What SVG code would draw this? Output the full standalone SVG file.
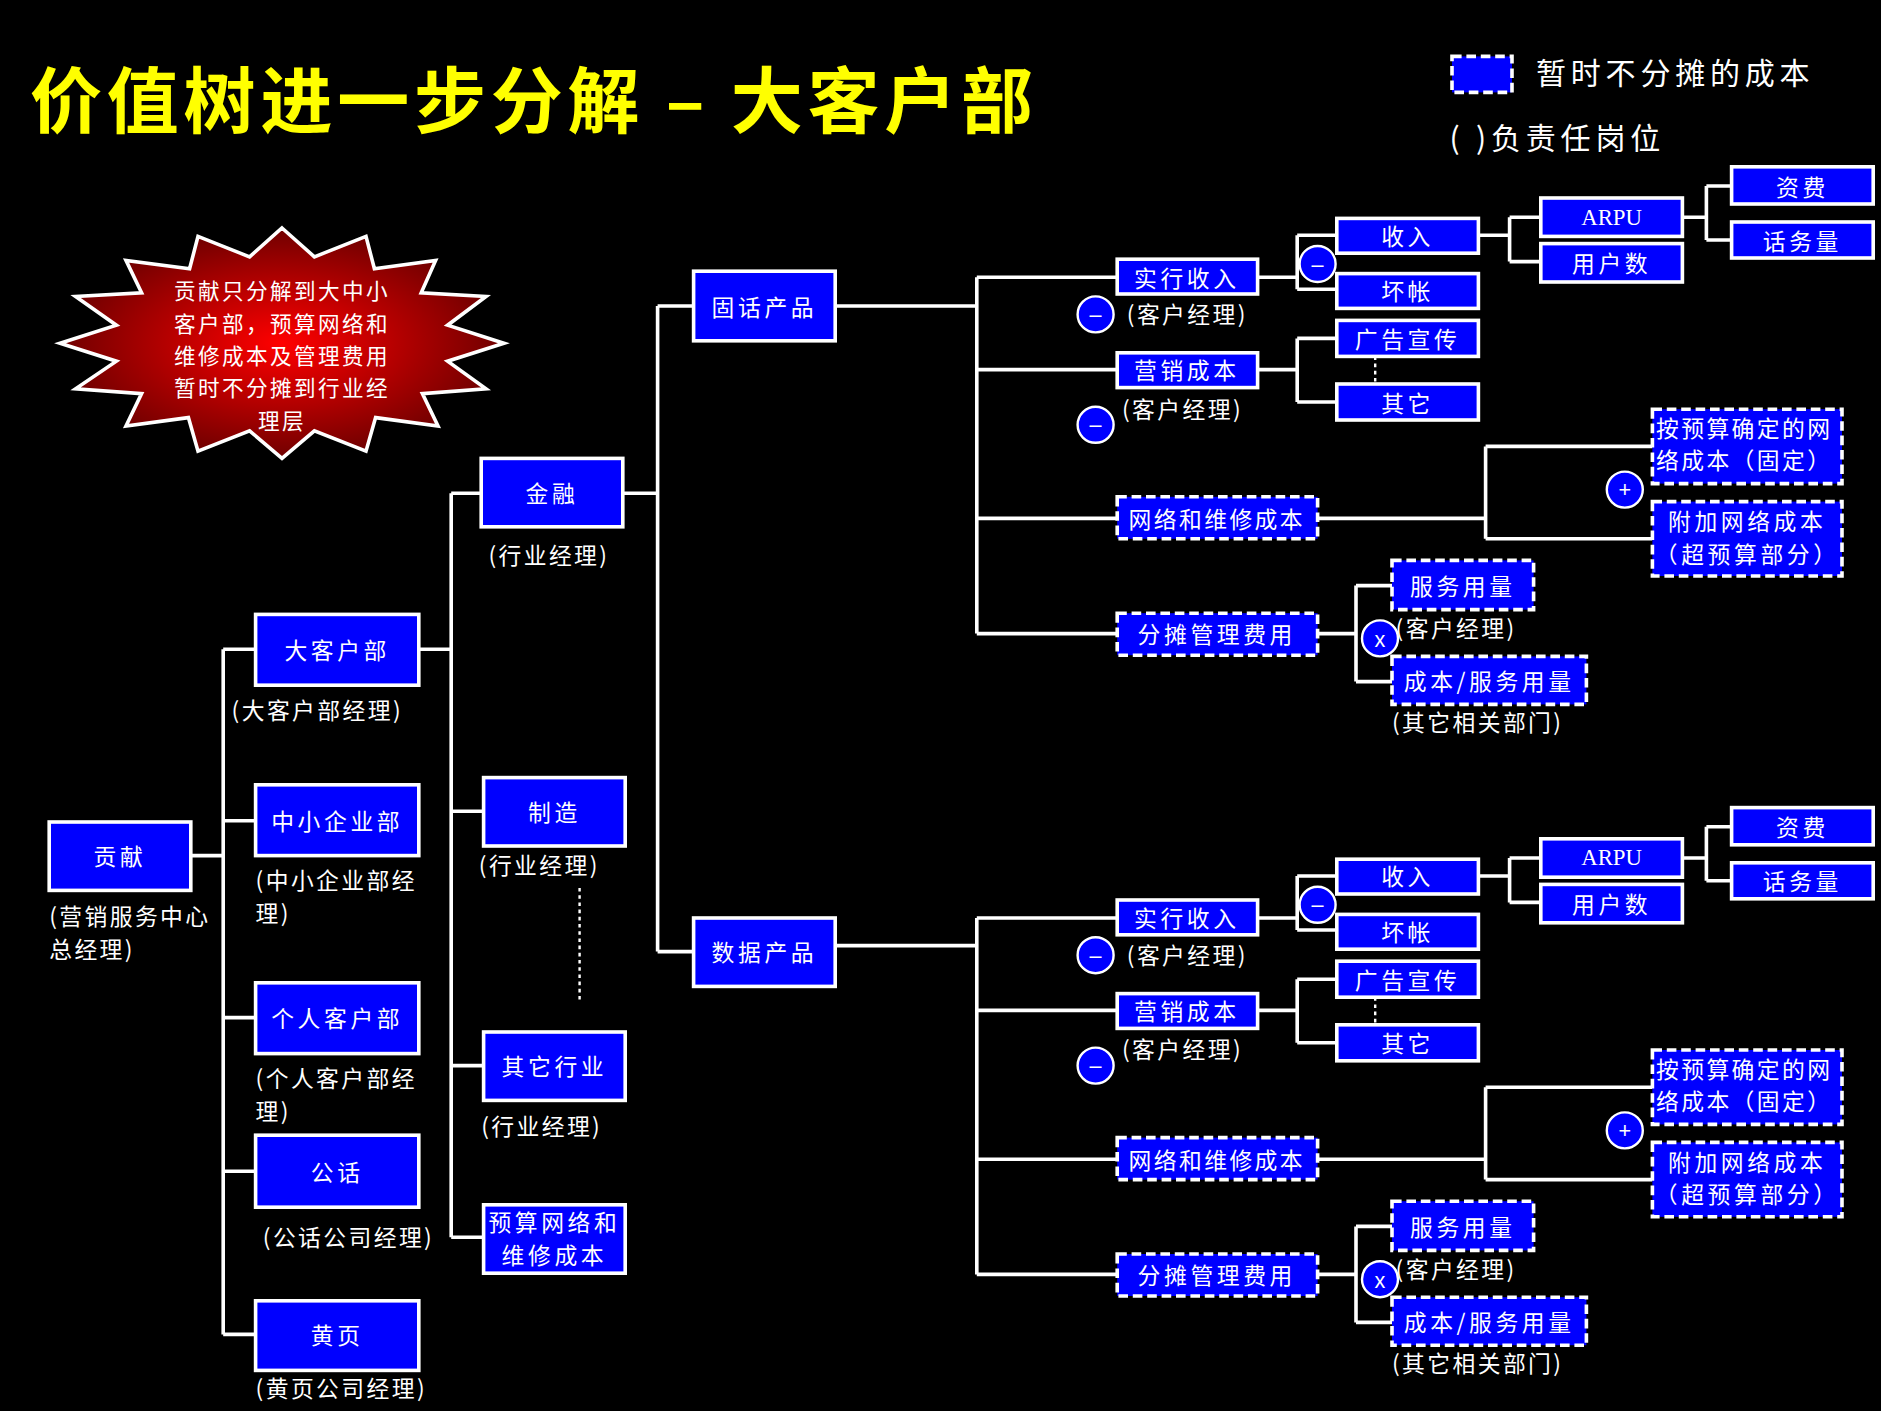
<svg xmlns="http://www.w3.org/2000/svg" width="1881" height="1411" viewBox="0 0 1881 1411">
<style>
.b{fill:#0000ff;stroke:#fff;stroke-width:3}
.d{fill:#0000ff;stroke:#fff;stroke-width:3;stroke-dasharray:8 4}
.t{fill:#fff;font-family:"Noto Sans CJK SC","Liberation Serif",serif;font-size:19px;letter-spacing:3px;text-anchor:middle;dominant-baseline:central}
.l{fill:#fff;font-family:"Noto Sans CJK SC","Liberation Serif",serif;font-size:19px;letter-spacing:2px}
.c{fill:none;stroke:#fff;stroke-width:3}
.dot{fill:none;stroke:#fff;stroke-width:2;stroke-dasharray:3 3}
.o{fill:#0000ff;stroke:#fff;stroke-width:2}
.os{fill:#fff;font-family:"Liberation Sans",sans-serif;font-size:18px;text-anchor:middle;dominant-baseline:central}
</style>
<defs>
<radialGradient id="rg" cx="0.5" cy="0.5" r="0.5">
<stop offset="0" stop-color="#ff0000"/><stop offset="1" stop-color="#700000"/>
</radialGradient>
</defs>
<rect width="1881" height="1411" fill="#000"/>
<g transform="scale(1.2)">
<text x="25" y="106" fill="#ffff00" font-family="'Noto Sans CJK SC','Liberation Sans',sans-serif" font-size="60" font-weight="bold" letter-spacing="4">价值树进一步分解 – 大客户部</text>
<g id="legend">
<rect x="1210" y="47" width="50" height="30" class="d"/>
<text x="1280" y="70" class="l" style="font-size:25px;letter-spacing:4px">暂时不分摊的成本</text>
<text x="1208" y="124" class="l" style="font-size:25px;letter-spacing:4px">(     )负责任岗位</text>
</g>
<g id="note">
<polygon fill="url(#rg)" stroke="#fff" stroke-width="3" points="235,190 262,214 305,197 312,224 363,217 351,244 405,247 373,271 420,286 373,301 405,324 352,328 365,355 313,348 305,376 262,359 235,382 208,359 165,376 157,348 105,355 118,328 63,324 97,301 50,286 97,271 63,247 118,244 105,217 158,224 165,197 208,214"/>
<text class="t" style="font-size:18px;letter-spacing:2px"><tspan x="235" y="241">贡献只分解到大中小</tspan><tspan x="235" y="268">客户部，预算网络和</tspan><tspan x="235" y="295">维修成本及管理费用</tspan><tspan x="235" y="322">暂时不分摊到行业经</tspan><tspan x="235" y="349">理层</tspan></text>
</g>

<g id="connectors">
<path class="c" d="M159,713H186M186,541V1112M186,541H213M186,684H213M186,848H213M186,976H213M186,1112H213"/>
<path class="c" d="M349,541H376M376,411V1031M376,411H401M376,676H403M376,882V888H403M376,1031H403"/>
<path class="dot" d="M483,740V835"/>
<path class="c" d="M519,411H548M548,255V793M548,255H578M548,793H578"/>
<path class="c" d="M696,255H814M814,231V528M814,231H931M814,308H931M814,432H931M814,528H931"/>
<path class="c" d="M1048,231H1081M1081,196V241M1081,196H1114M1081,241H1114"/>
<path class="c" d="M1232,196H1258M1258,181V218M1258,181H1284M1258,218H1284"/>
<path class="c" d="M1402,181H1422M1422,155V200M1422,155H1443M1422,200H1443"/>
<path class="c" d="M1048,308H1081M1081,282V335M1081,282H1114M1081,335H1114"/>
<path class="dot" d="M1146,297V320"/>
<path class="c" d="M1098,432H1238M1238,372V449M1238,372H1377M1238,449H1377"/>
<path class="c" d="M1098,528H1130M1130,488V568M1130,488H1160M1130,568H1160"/>
<path class="c" d="M696,788H814M814,765V1062"/>
<g transform="translate(0,534)">
<path class="c" d="M814,231H931M814,308H931M814,432H931M814,528H931"/>
<path class="c" d="M1048,231H1081M1081,196V241M1081,196H1114M1081,241H1114"/>
<path class="c" d="M1232,196H1258M1258,181V218M1258,181H1284M1258,218H1284"/>
<path class="c" d="M1402,181H1422M1422,155V200M1422,155H1443M1422,200H1443"/>
<path class="c" d="M1048,308H1081M1081,282V335M1081,282H1114M1081,335H1114"/>
<path class="dot" d="M1146,297V320"/>
<path class="c" d="M1098,432H1238M1238,372V449M1238,372H1377M1238,449H1377"/>
<path class="c" d="M1098,528H1130M1130,488V568M1130,488H1160M1130,568H1160"/>
</g>
</g>

<g id="n-gongxian"><rect class="b" x="41" y="685" width="118" height="57"/><text class="t" x="100" y="713">贡献</text>
<text class="l" x="41" y="771">(营销服务中心</text><text class="l" x="41" y="798">总经理)</text></g>
<g id="n-dakehu"><rect class="b" x="213" y="512" width="136" height="59"/><text class="t" x="281" y="541">大客户部</text><text class="l" x="193" y="599">(大客户部经理)</text></g>
<g id="n-zhongxiao"><rect class="b" x="213" y="654" width="136" height="59"/><text class="t" x="281" y="684">中小企业部</text><text class="l" x="213" y="741">(中小企业部经</text><text class="l" x="213" y="768">理)</text></g>
<g id="n-geren"><rect class="b" x="213" y="819" width="136" height="59"/><text class="t" x="281" y="848">个人客户部</text><text class="l" x="213" y="906">(个人客户部经</text><text class="l" x="213" y="933">理)</text></g>
<g id="n-gonghua"><rect class="b" x="213" y="946" width="136" height="60"/><text class="t" x="281" y="976">公话</text><text class="l" x="219" y="1038">(公话公司经理)</text></g>
<g id="n-huangye"><rect class="b" x="213" y="1084" width="136" height="58"/><text class="t" x="281" y="1112">黄页</text><text class="l" x="213" y="1164">(黄页公司经理)</text></g>
<g id="n-jinrong"><rect class="b" x="401" y="382" width="118" height="57"/><text class="t" x="460" y="410">金融</text><text class="l" x="407" y="470">(行业经理)</text></g>
<g id="n-zhizao"><rect class="b" x="403" y="648" width="118" height="57"/><text class="t" x="462" y="676">制造</text><text class="l" x="399" y="728">(行业经理)</text></g>
<g id="n-qita"><rect class="b" x="403" y="860" width="118" height="57"/><text class="t" x="462" y="888">其它行业</text><text class="l" x="401" y="946">(行业经理)</text></g>
<g id="n-yusuan"><rect class="b" x="403" y="1004" width="118" height="57"/><text class="t" x="462" y="1018">预算网络和</text><text class="t" x="462" y="1045">维修成本</text></g>
<g id="n-guhua"><rect class="b" x="578" y="226" width="118" height="58"/><text class="t" x="637" y="255">固话产品</text></g>
<g id="n-shuju"><rect class="b" x="578" y="765" width="118" height="57"/><text class="t" x="637" y="793">数据产品</text></g>

<g id="sub1">
<g id="s1-shixing"><rect class="b" x="931" y="216" width="117" height="29"/><text class="t" x="989" y="231">实行收入</text><circle class="o" cx="913" cy="262" r="15"/><text class="os" x="913" y="262">–</text><text class="l" x="939" y="269">(客户经理)</text></g>
<g id="s1-yingxiao"><rect class="b" x="931" y="294" width="117" height="29"/><text class="t" x="989" y="308">营销成本</text><circle class="o" cx="913" cy="354" r="15"/><text class="os" x="913" y="354">–</text><text class="l" x="935" y="348">(客户经理)</text></g>
<g id="s1-wangluo"><rect class="d" x="931" y="414" width="167" height="35"/><text class="t" x="1014" y="432" style="letter-spacing:2px">网络和维修成本</text></g>
<g id="s1-fentan"><rect class="d" x="931" y="511" width="167" height="35"/><text class="t" x="1014" y="528">分摊管理费用</text></g>
<g id="s1-minus"><circle class="o" cx="1098" cy="220" r="15"/><text class="os" x="1098" y="220">–</text></g>
<g id="s1-shouru"><rect class="b" x="1114" y="182" width="118" height="29"/><text class="t" x="1173" y="196">收入</text></g>
<g id="s1-huaizhang"><rect class="b" x="1114" y="228" width="118" height="29"/><text class="t" x="1173" y="242">坏帐</text></g>
<g id="s1-guanggao"><rect class="b" x="1114" y="267" width="118" height="30"/><text class="t" x="1173" y="282">广告宣传</text></g>
<g id="s1-qita"><rect class="b" x="1114" y="320" width="118" height="30"/><text class="t" x="1173" y="335">其它</text></g>
<g id="s1-arpu"><rect class="b" x="1284" y="165" width="118" height="32"/><text class="t" x="1343" y="181" style="font-family:'Liberation Serif',serif;letter-spacing:0">ARPU</text></g>
<g id="s1-yonghu"><rect class="b" x="1284" y="203" width="118" height="32"/><text class="t" x="1343" y="219">用户数</text></g>
<g id="s1-zifei"><rect class="b" x="1443" y="139" width="118" height="31"/><text class="t" x="1502" y="155">资费</text></g>
<g id="s1-huawu"><rect class="b" x="1443" y="185" width="118" height="30"/><text class="t" x="1502" y="200">话务量</text></g>
<g id="s1-guding"><rect class="d" x="1377" y="341" width="158" height="62"/><text class="l" x="1380" y="364">按预算确定的网</text><text class="l" x="1380" y="391">络成本（固定）</text></g>
<g id="s1-fujia"><rect class="d" x="1377" y="418" width="158" height="62"/><text class="t" x="1456" y="434">附加网络成本</text><text class="t" x="1456" y="461">（超预算部分）</text></g>
<g id="s1-plus"><circle class="o" cx="1354" cy="408" r="15"/><text class="os" x="1354" y="408">+</text></g>
<g id="s1-fuwu"><rect class="d" x="1160" y="467" width="118" height="41"/><text class="t" x="1219" y="488">服务用量</text></g>
<g id="s1-x"><circle class="o" cx="1150" cy="532" r="15"/><text class="os" x="1150" y="533">x</text><text class="l" x="1163" y="531">(客户经理)</text></g>
<g id="s1-chengben"><rect class="d" x="1160" y="547" width="162" height="40"/><text class="t" x="1241" y="567">成本/服务用量</text><text class="l" x="1160" y="609">(其它相关部门)</text></g>
</g>

<g id="sub2" transform="translate(0,534)">
<g id="s2-shixing"><rect class="b" x="931" y="216" width="117" height="29"/><text class="t" x="989" y="231">实行收入</text><circle class="o" cx="913" cy="262" r="15"/><text class="os" x="913" y="262">–</text><text class="l" x="939" y="269">(客户经理)</text></g>
<g id="s2-yingxiao"><rect class="b" x="931" y="294" width="117" height="29"/><text class="t" x="989" y="308">营销成本</text><circle class="o" cx="913" cy="354" r="15"/><text class="os" x="913" y="354">–</text><text class="l" x="935" y="348">(客户经理)</text></g>
<g id="s2-wangluo"><rect class="d" x="931" y="414" width="167" height="35"/><text class="t" x="1014" y="432" style="letter-spacing:2px">网络和维修成本</text></g>
<g id="s2-fentan"><rect class="d" x="931" y="511" width="167" height="35"/><text class="t" x="1014" y="528">分摊管理费用</text></g>
<g id="s2-minus"><circle class="o" cx="1098" cy="220" r="15"/><text class="os" x="1098" y="220">–</text></g>
<g id="s2-shouru"><rect class="b" x="1114" y="182" width="118" height="29"/><text class="t" x="1173" y="196">收入</text></g>
<g id="s2-huaizhang"><rect class="b" x="1114" y="228" width="118" height="29"/><text class="t" x="1173" y="242">坏帐</text></g>
<g id="s2-guanggao"><rect class="b" x="1114" y="267" width="118" height="30"/><text class="t" x="1173" y="282">广告宣传</text></g>
<g id="s2-qita"><rect class="b" x="1114" y="320" width="118" height="30"/><text class="t" x="1173" y="335">其它</text></g>
<g id="s2-arpu"><rect class="b" x="1284" y="165" width="118" height="32"/><text class="t" x="1343" y="181" style="font-family:'Liberation Serif',serif;letter-spacing:0">ARPU</text></g>
<g id="s2-yonghu"><rect class="b" x="1284" y="203" width="118" height="32"/><text class="t" x="1343" y="219">用户数</text></g>
<g id="s2-zifei"><rect class="b" x="1443" y="139" width="118" height="31"/><text class="t" x="1502" y="155">资费</text></g>
<g id="s2-huawu"><rect class="b" x="1443" y="185" width="118" height="30"/><text class="t" x="1502" y="200">话务量</text></g>
<g id="s2-guding"><rect class="d" x="1377" y="341" width="158" height="62"/><text class="l" x="1380" y="364">按预算确定的网</text><text class="l" x="1380" y="391">络成本（固定）</text></g>
<g id="s2-fujia"><rect class="d" x="1377" y="418" width="158" height="62"/><text class="t" x="1456" y="434">附加网络成本</text><text class="t" x="1456" y="461">（超预算部分）</text></g>
<g id="s2-plus"><circle class="o" cx="1354" cy="408" r="15"/><text class="os" x="1354" y="408">+</text></g>
<g id="s2-fuwu"><rect class="d" x="1160" y="467" width="118" height="41"/><text class="t" x="1219" y="488">服务用量</text></g>
<g id="s2-x"><circle class="o" cx="1150" cy="532" r="15"/><text class="os" x="1150" y="533">x</text><text class="l" x="1163" y="531">(客户经理)</text></g>
<g id="s2-chengben"><rect class="d" x="1160" y="547" width="162" height="40"/><text class="t" x="1241" y="567">成本/服务用量</text><text class="l" x="1160" y="609">(其它相关部门)</text></g>
</g>
</g>
</svg>
